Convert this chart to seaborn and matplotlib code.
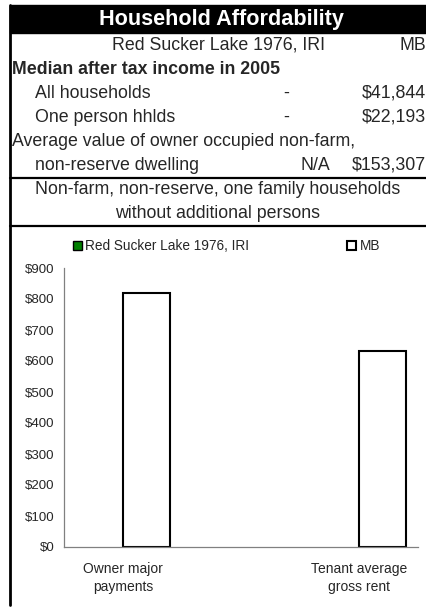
import matplotlib
matplotlib.use('Agg')
import matplotlib.pyplot as plt
import seaborn as sns
import pandas as pd
import numpy as np
from matplotlib.patches import Patch, Rectangle
from matplotlib.lines import Line2D
from matplotlib.ticker import FuncFormatter, FixedLocator

# --- Data ---
place = "Red Sucker Lake 1976, IRI"
province = "MB"
categories = ["Owner major\npayments", " ", "Tenant average\ngross rent"]
place_values = [np.nan, np.nan, np.nan]
province_values = [820, np.nan, 632]

income_labels = ["All households", "One person hhlds"]
income_place = ["-", "-"]
income_prov = ["$41,844", "$22,193"]
dwelling_place = "N/A"
dwelling_prov = "$153,307"

# --- Setup ---
sns.set_theme(style="white")
plt.rcParams['font.family'] = ['Liberation Sans', 'DejaVu Sans']

W, H = 427, 607
fig = plt.figure(figsize=(W / 100, H / 100), dpi=100)


def fy(y):
    # пиксели сверху -> доли фигуры
    return 1 - y / H


def fx(x):
    return x / W


# шапка таблицы
fig.patches.append(Rectangle((fx(10), fy(33)), fx(W - 10), (33 - 5) / H,
                             transform=fig.transFigure, color='black'))
fig.text(fx(221), fy(19), "Household Affordability", color='white',
         fontsize=15.6, fontweight='bold', ha='center', va='center')

row_y = [45, 69, 93, 117, 141, 165]
fs = 12.8
fig.text(fx(325), fy(row_y[0]), place, fontsize=fs, ha='right', va='center')
fig.text(fx(426), fy(row_y[0]), province, fontsize=fs, ha='right', va='center')
fig.text(fx(12), fy(row_y[1]), "Median after tax income in 2005", fontsize=fs,
         fontweight='bold', ha='left', va='center')
for i, lab in enumerate(income_labels):
    y = fy(row_y[2 + i])
    fig.text(fx(35), y, lab, fontsize=fs, ha='left', va='center')
    fig.text(fx(286), y, income_place[i], fontsize=fs, ha='center', va='center')
    fig.text(fx(426), y, income_prov[i], fontsize=fs, ha='right', va='center')
fig.text(fx(12), fy(row_y[4]), "Average value of owner occupied non-farm,",
         fontsize=fs, ha='left', va='center')
fig.text(fx(35), fy(row_y[5]), "non-reserve dwelling", fontsize=fs, ha='left', va='center')
fig.text(fx(330), fy(row_y[5]), dwelling_place, fontsize=fs, ha='right', va='center')
fig.text(fx(426), fy(row_y[5]), dwelling_prov, fontsize=fs, ha='right', va='center')

line1, line2 = 178, 226
fig.text(fx(218), fy(190), "Non-farm, non-reserve, one family households",
         fontsize=fs, ha='center', va='center')
fig.text(fx(218), fy(213), "without additional persons",
         fontsize=fs, ha='center', va='center')

for yl in [line1, line2]:
    fig.lines.append(Line2D([fx(10), 1], [fy(yl), fy(yl)], transform=fig.transFigure,
                            color='black', lw=1.6))
fig.lines.append(Line2D([fx(10), fx(10)], [fy(5), fy(605)], transform=fig.transFigure,
                        color='black', lw=2))

# --- Chart ---
ax = fig.add_axes([fx(64), fy(547), fx(418 - 64), 279 / H])
df = pd.DataFrame({
    'category': categories * 2,
    'series': [place] * 3 + [province] * 3,
    'value': place_values + province_values,
})
sns.barplot(data=df, x='category', y='value', hue='series', order=categories,
            hue_order=[place, province], palette=['green', 'white'],
            edgecolor='black', linewidth=1.5, width=0.8, ax=ax, legend=False)

ax.set_ylim(0, 900)
ax.set_xlim(-0.5, 2.5)
ax.yaxis.set_major_locator(FixedLocator(np.arange(0, 901, 100)))
ax.yaxis.set_major_formatter(FuncFormatter(lambda v, p: f"${v:,.0f}"))
ax.set_xticks([-0.5, 0.5, 1.5, 2.5])
ax.set_xticklabels([])
ax.set_xticks([0, 1, 2], minor=True)
ax.set_xticklabels(categories, minor=True, fontsize=10, linespacing=1.3)
ax.tick_params(axis='x', which='minor', length=0, pad=11)
ax.tick_params(axis='x', which='major', length=4, width=0.8, color='#808080', direction='out')
ax.tick_params(axis='y', length=4, width=0.8, color='#808080', direction='out',
               labelsize=9.5, pad=3)
ax.set_xlabel('')
ax.set_ylabel('')
for side in ['top', 'right']:
    ax.spines[side].set_visible(False)
for side in ['left', 'bottom']:
    ax.spines[side].set_color('#808080')
    ax.spines[side].set_linewidth(0.9)
ax.patch.set_alpha(0)

handles = [Patch(facecolor='green', edgecolor='black', label=place),
           Patch(facecolor='white', edgecolor='black', linewidth=1.5, label=province)]
fig.legend(handles=handles, loc='center left', bbox_to_anchor=(fx(73), fy(246)),
           ncol=2, frameon=False, fontsize=9.8, handlelength=0.65, handleheight=0.65,
           handletextpad=0.25, columnspacing=7.2, borderaxespad=0, borderpad=0)

fig.savefig('out.png', dpi=100)
